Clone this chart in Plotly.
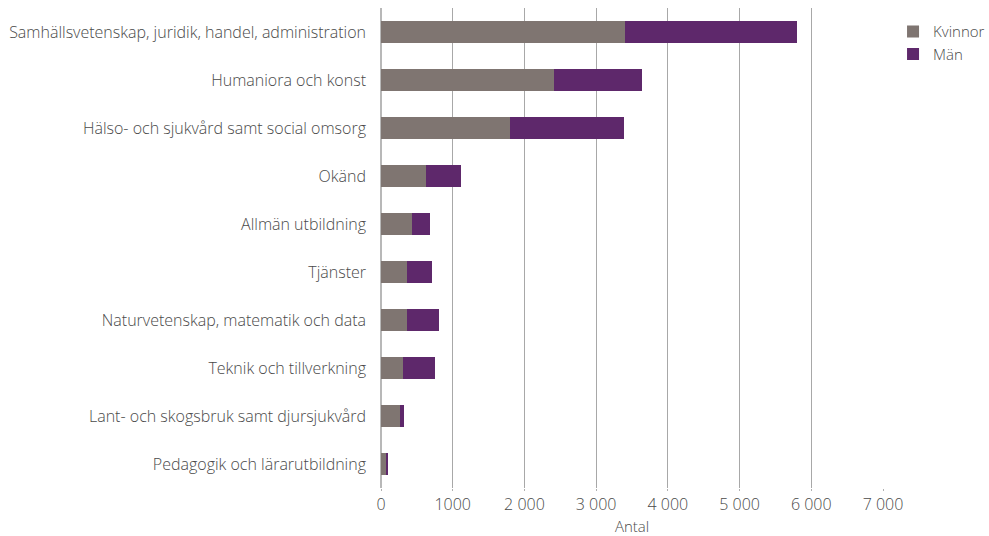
import plotly.graph_objects as go

categories = [
    "Samhällsvetenskap, juridik, handel, administration",
    "Humaniora och konst",
    "Hälso- och sjukvård samt social omsorg",
    "Okänd",
    "Allmän utbildning",
    "Tjänster",
    "Naturvetenskap, matematik och data",
    "Teknik och tillverkning",
    "Lant- och skogsbruk samt djursjukvård",
    "Pedagogik och lärarutbildning",
]
kvinnor = [3400, 2410, 1800, 630, 430, 365, 365, 310, 265, 70]
man = [2400, 1230, 1590, 490, 255, 345, 445, 445, 55, 28]
tick_vals = [0, 1000, 2000, 3000, 4000, 5000, 6000, 7000]
tick_text = ["0", "1000", "2 000", "3 000", "4 000", "5 000", "6 000", "7 000"]

FONT = "Open Sans"
TXT = "#4a4a4a"

fig = go.Figure()
fig.add_trace(go.Bar(y=categories, x=kvinnor, name="Kvinnor", orientation="h",
                     marker=dict(color="#7f7571", line=dict(width=0)), width=0.47))
fig.add_trace(go.Bar(y=categories, x=man, name="Män", orientation="h",
                     marker=dict(color="#5e286b", line=dict(width=0)), width=0.47))

fig.update_layout(
    barmode="stack",
    width=989, height=536,
    margin=dict(l=381, r=106, t=8, b=48, autoexpand=False),
    plot_bgcolor="white", paper_bgcolor="white",
    font=dict(family=FONT, color=TXT, size=16, weight=300),
    showlegend=True,
    legend=dict(x=1.02, y=0.985, xanchor="left", yanchor="top",
                font=dict(size=15, color=TXT, weight=300), tracegroupgap=0,
                itemwidth=30, traceorder="normal"),
)
fig.update_xaxes(
    range=[0, 7000], tickvals=tick_vals, ticktext=tick_text,
    showgrid=True, gridcolor="#a8a8a8", gridwidth=1,
    zeroline=True, zerolinecolor="#b8b8b8", zerolinewidth=2,
    ticks="outside", ticklen=2, tickcolor="#b0b0b0",
    tickfont=dict(size=16, color=TXT, weight=300),
    title=dict(text="Antal", font=dict(size=15, color=TXT, weight=300), standoff=8),
    showline=False, automargin=False,
)
fig.update_yaxes(
    categoryorder="array", categoryarray=categories[::-1],
    range=[-0.5, 9.5],
    tickfont=dict(size=16, color=TXT, weight=300), ticks="", ticklabelstandoff=14,
    showgrid=False, showline=False, automargin=False,
)
fig.write_html("out.html", config={"displayModeBar": False},
               post_script="document.body.style.margin='0';")
